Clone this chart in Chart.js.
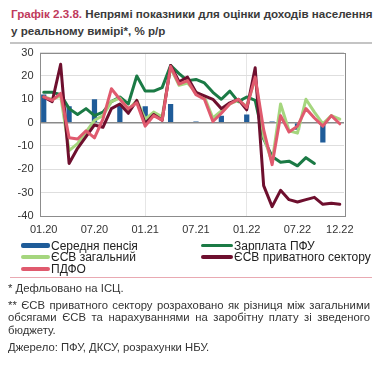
<!DOCTYPE html>
<html>
<head>
<meta charset="utf-8">
<script src="https://cdn.jsdelivr.net/npm/chart.js@4"></script>
<style>
  body { margin: 0; width: 382px; height: 381px; background: #fff; position: relative; overflow: hidden;
         font-family: "Liberation Sans", Arial, sans-serif; color: #333; }
  #title { position: absolute; left: 11px; top: 6px; width: 365px; font-weight: bold; font-size: 11.6px;
           line-height: 16.5px; color: #3a3a3a; white-space: nowrap; }
  #title .num { color: #c03a5c; }
  .rule { position: absolute; left: 10px; width: 362px; height: 1px; }
  #box { position: absolute; left: 0; top: 40px; width: 382px; height: 200px; }
  #legend { position: absolute; left: 0; top: 240px; width: 382px; font-size: 12px; color: #222; }
  .item { position: absolute; height: 12px; line-height: 12px; white-space: nowrap; }
  .item i { display: inline-block; vertical-align: middle; margin-right: 1px; position: relative; top: -1px; }
  .note { position: absolute; left: 8px; width: 362px; font-size: 11.3px; line-height: 12.5px; color: #333; white-space: nowrap; }
  .just { text-align: justify; text-align-last: justify; }
</style>
</head>
<body>
<div id="title"><span class="num">Графік 2.3.8.</span> Непрямі показники для оцінки доходів населення<br>у реальному вимірі*, % р/р</div>
<div class="rule" style="top:42px;background:#c4c4c4;height:1.5px"></div>
<div id="box"><canvas id="c" width="382" height="200"></canvas></div>
<div id="legend"></div>
<div class="rule" style="top:277px;background:#e9a9b2"></div>
<div class="note" style="top:281.5px">* Дефльовано на ІСЦ.</div>
<div class="note just" style="top:298.5px">** ЄСВ приватного сектору розраховано як різниця між загальними</div>
<div class="note just" style="top:311px">обсягами ЄСВ та нарахуваннями на заробітну плату зі зведеного</div>
<div class="note" style="top:323.5px">бюджету.</div>
<div class="note" style="top:341px">Джерело: ПФУ, ДКСУ, розрахунки НБУ.</div>
<script>
// місяці 01.20 - 12.22
const months = ['01.20','02.20','03.20','04.20','05.20','06.20','07.20','08.20','09.20','10.20','11.20','12.20',
                '01.21','02.21','03.21','04.21','05.21','06.21','07.21','08.21','09.21','10.21','11.21','12.21',
                '01.22','02.22','03.22','04.22','05.22','06.22','07.22','08.22','09.22','10.22','11.22','12.22'];
const shownTicks = ['01.20','07.20','01.21','07.21','01.22','07.22','12.22'];
const yTicks = [30, 20, 10, 0, -10, -20, -30, -40];

// Середня пенсія (квартальні значення)
const pension = [12, null, null, 7, null, null, 10, null, null, 8, null, null,
                 7, null, null, 8, null, null, 0.5, null, null, 3, null, null,
                 3.5, null, null, 0.5, null, null, -3, null, null, -8.5, null, null];
// Зарплата ПФУ
const salaryPFU = [13, 13, 12, 6, 3.5, 6, 3, 4.5, 9, 11, 8, 20,
                   13.5, 13.5, 15, 24.5, 21, 18, 18.5, 17, 13, 10, 13.5, 9,
                   11, 9.5, -7, -14.5, -17, -16.5, -18.5, -15, -17.5, null, null, null];
// ЄСВ загальний
const usvTotal = [11, 10, 11.5, -12, -9, -4, 1, 3, 9, 10.5, 5.5, 9.5,
                  1.5, 4.5, 2.5, 23.5, 16, 17, 13, 11, 2, 5, 8, 9.5,
                  7, 19, -6, -17, 8, -3.5, -4.5, 10, 4.5, -0.5, 3, 1.5];
// ЄСВ приватного сектору
const usvPrivate = [11, 9, 25, -17.5, -11, -6, -1, -2, 6, 8, 4, 9.5,
                    -0.5, 3.5, 1, 24.5, 17.5, 19.5, 13, 11.5, 10, 6, 8.5, 10,
                    5.5, 23.5, -27, -36, -29, -33, -34, -33, -32, -35, -34.5, -35];
// ПДФО
const pdfo = [11, 9.5, 12.5, -6.5, -7, -3.5, -6.5, 1.5, 14.5, 10, 6, 8.5,
              -1.5, 3, 1, 24, 16.5, 18, 12, 10, 0.5, 4, 8, 10,
              6.5, 19.5, -3, -18, 3, -4, -1.5, 6, 2, -1.5, 3, -0.5];

const names = ['Середня пенсія', 'Зарплата ПФУ', 'ЄСВ загальний', 'ЄСВ приватного сектору', 'ПДФО'];
const colors = ['#1f5c99', '#1b7a45', '#a5d67e', '#6e0f2e', '#e05a6e'];

// рамка навколо області графіка
const frame = {
    id: 'frame',
    afterDraw(chart) {
        const a = chart.chartArea, g = chart.ctx;
        g.save();
        g.strokeStyle = '#8c8c8c';
        g.lineWidth = 1;
        g.strokeRect(Math.round(a.left) + 0.5, Math.round(a.top) + 0.5,
                     Math.round(a.right - a.left), Math.round(a.bottom - a.top));
        g.restore();
    }
};

const ctx = document.getElementById('c').getContext('2d');
const chart = new Chart(ctx, {
    data: {
        labels: months,
        datasets: [
            { type: 'line', label: names[4], data: pdfo, borderColor: colors[4], borderWidth: 3, order: 1 },
            { type: 'line', label: names[3], data: usvPrivate, borderColor: colors[3], borderWidth: 3, order: 2 },
            { type: 'line', label: names[2], data: usvTotal, borderColor: colors[2], borderWidth: 3, order: 3 },
            { type: 'line', label: names[1], data: salaryPFU, borderColor: colors[1], borderWidth: 3, order: 4 },
            { type: 'bar', label: names[0], data: pension, backgroundColor: colors[0],
              barPercentage: 0.62, categoryPercentage: 1, order: 5 }
        ]
    },
    options: {
        responsive: false,
        animation: false,
        devicePixelRatio: 1,
        elements: { point: { radius: 0 }, line: { tension: 0, borderCapStyle: 'round', borderJoinStyle: 'round' } },
        layout: { padding: { left: 0, right: 38, top: 8, bottom: 0 } },
        plugins: { legend: { display: false }, tooltip: { enabled: false } },
        scales: {
            x: {
                offset: true,
                afterFit: (s) => { s.height = 24; },
                grid: {
                    offset: false,
                    drawTicks: false,
                    color: (c) => (c.index === 12 || c.index === 24) ? '#e6e6e6' : 'rgba(0,0,0,0)'
                },
                border: { display: false },
                ticks: {
                    autoSkip: false, maxRotation: 0, padding: 7, color: '#333',
                    font: { family: 'Liberation Sans', size: 11 },
                    callback: function (v, i) { return shownTicks.includes(months[i]) ? months[i] : ''; }
                }
            },
            y: {
                min: -40, max: 30,
                afterFit: (s) => { s.width = 39.5; },
                afterBuildTicks: (s) => { s.ticks = yTicks.map(v => ({ value: v })); },
                grid: {
                    drawTicks: false,
                    color: (c) => c.tick.value === 0 ? '#8a8a8a' : '#dedede',
                    lineWidth: (c) => c.tick.value === 0 ? 1.5 : 1
                },
                border: { display: false },
                ticks: { padding: 6, color: '#333', font: { family: 'Liberation Sans', size: 11 } }
            }
        }
    },
    plugins: [frame]
});

// легенда у дві колонки
const legendPos = [[21, 239.5], [201, 239.5], [21, 251.3], [201, 251.3], [21, 263.3]];
const leg = document.getElementById('legend');
names.forEach((name, k) => {
    const d = document.createElement('div');
    d.className = 'item';
    d.style.left = legendPos[k][0] + 'px';
    d.style.top = (legendPos[k][1] - 240) + 'px';
    const w = legendPos[k][0] < 100 ? 29 : 32;
    const h = k === 0 ? 5 : 3.5;
    d.innerHTML = '<i style="width:' + w + 'px;height:' + h + 'px;background:' + colors[k] + ';border-radius:2px"></i>' + name;
    leg.appendChild(d);
});
</script>
</body>
</html>
